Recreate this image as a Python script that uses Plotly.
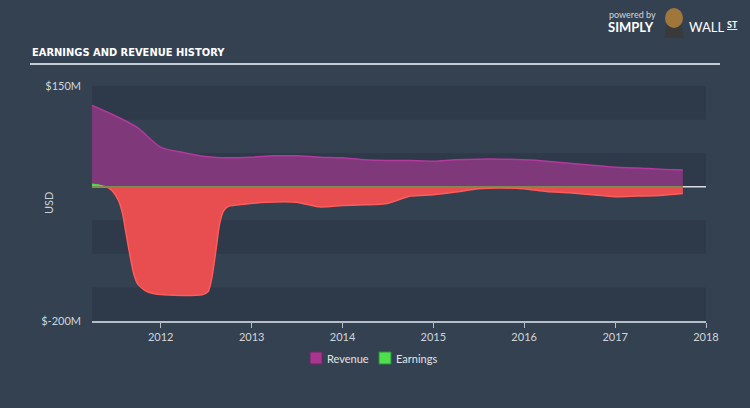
import plotly.graph_objects as go

# ---- data (USD millions) ----
rev_dates = ["2011-03-31","2011-06-30","2011-09-30","2011-12-31","2012-03-31","2012-06-30",
             "2012-09-30","2012-12-31","2013-03-31","2013-06-30","2013-09-30","2013-12-31",
             "2014-03-31","2014-06-30","2014-09-30","2014-12-31","2015-03-31","2015-06-30",
             "2015-09-30","2015-12-31","2016-03-31","2016-06-30","2016-09-30","2016-12-31",
             "2017-03-31","2017-06-30","2017-09-30"]
revenue = [121, 106, 88, 59, 51, 45, 43, 44, 46, 46, 44, 43, 40, 39, 39, 38, 40, 41,
           41, 40, 38, 35, 32, 29, 28, 26, 25]

earn_pos_dates = ["2011-03-31","2011-04-30","2011-05-28"]
earnings_pos = [4, 2.5, 0]

earn_dates = ["2011-05-28","2011-06-20","2011-07-15","2011-08-01","2011-08-15","2011-09-01",
              "2011-09-15","2011-10-01","2011-11-01","2011-12-01","2012-01-15","2012-04-01",
              "2012-06-15","2012-07-10","2012-07-25","2012-08-10","2012-08-25","2012-09-10",
              "2012-10-01","2012-12-01","2013-03-01","2013-06-30","2013-09-30","2013-12-31",
              "2014-03-31","2014-06-30","2014-09-30","2014-12-31","2015-03-31","2015-06-30",
              "2015-09-30","2015-12-31","2016-03-31","2016-06-30","2016-09-30","2016-12-31",
              "2017-03-31","2017-06-30","2017-09-30"]
earnings = [0, -6, -20, -40, -70, -105, -130, -145, -155, -159, -161, -162,
            -161, -156, -135, -95, -55, -36, -29, -26, -23, -23, -30, -28,
            -27, -25, -14, -12, -8, -3, -2, -3, -7, -9, -12, -15,
            -14, -13, -10]

year_ticks = ["2012-01-01","2013-01-01","2014-01-01","2015-01-01","2016-01-01","2017-01-01","2018-01-01"]
year_labels = ["2012","2013","2014","2015","2016","2017","2018"]
y_ticks = [150, -200]
y_labels = ["$150M", "$-200M"]
legend_names = ["Revenue", "Earnings"]

BG = "#344151"
DARK = "#2e3a49"
REV_FILL = "rgba(127,56,121,1)"
REV_LINE = "#b3399f"
EARN_FILL = "#e84e50"
EARN_LINE = "#ff5b5b"
GREEN = "#4ddf4d"

# plot area in pixels
L, R, T, B = 92, 706, 86, 321
PW, PH = R - L, B - T
def px(x):
    return (x - L) / PW
def py(y):
    return (B - y) / PH

fig = go.Figure()

fig.add_trace(go.Scatter(x=rev_dates, y=revenue, mode="lines", fill="tozeroy",
                         fillcolor=REV_FILL, line=dict(color=REV_LINE, width=1.5, shape="spline", smoothing=0.8),
                         showlegend=False, hoverinfo="skip"))
fig.add_trace(go.Scatter(x=earn_dates, y=earnings, mode="lines", fill="tozeroy",
                         fillcolor=EARN_FILL, line=dict(color=EARN_LINE, width=1.5, shape="spline", smoothing=0.6),
                         showlegend=False, hoverinfo="skip"))
fig.add_trace(go.Scatter(x=earn_pos_dates, y=earnings_pos, mode="lines", fill="tozeroy",
                         fillcolor=GREEN, line=dict(color=GREEN, width=1, shape="spline"),
                         showlegend=False, hoverinfo="skip"))
# olive zero line along data span
fig.add_trace(go.Scatter(x=[rev_dates[0], rev_dates[-1]], y=[0, 0], mode="lines",
                         line=dict(color="#7d8a4c", width=1.5), showlegend=False, hoverinfo="skip"))

shapes = []
# alternating bands
for lo, hi in [(100, 150), (0, 50), (-100, -50), (-200, -150)]:
    shapes.append(dict(type="rect", xref="paper", yref="y", x0=0, x1=1, y0=lo, y1=hi,
                       fillcolor=DARK, line=dict(width=0), layer="below"))
# white zero line across plot
shapes.append(dict(type="line", xref="paper", yref="y", x0=0, x1=1, y0=0, y1=0,
                   line=dict(color="#d6dde4", width=1.5), layer="below"))
# title underline
shapes.append(dict(type="line", xref="paper", yref="paper",
                   x0=px(30), x1=px(720), y0=py(64), y1=py(64),
                   line=dict(color="#c3ccd6", width=2)))
# logo: body + head
shapes.append(dict(type="path", xref="paper", yref="paper",
                   path="M {} {} L {} {} L {} {} L {} {} Z".format(px(664), py(38), px(667), py(24),
                                                                     px(681), py(24), px(684), py(38)),
                   fillcolor="#3a3a3a", line=dict(width=0)))
shapes.append(dict(type="circle", xref="paper", yref="paper",
                   x0=px(665), x1=px(683), y0=py(28), y1=py(8),
                   fillcolor="#a0773a", line=dict(width=0)))

# legend (manual)
legend_colors = ["#a8358f", GREEN]
legend_borders = ["#6a2a62", "#2f8a3a"]
legend_sw_x = [310, 379]
for name, c, bc, sx in zip(legend_names, legend_colors, legend_borders, legend_sw_x):
    shapes.append(dict(type="rect", xref="paper", yref="paper",
                       x0=px(sx), x1=px(sx + 12), y0=py(352), y1=py(364),
                       fillcolor=c, line=dict(color=bc, width=1)))

annotations = [
    dict(text="EARNINGS AND REVENUE HISTORY", xref="paper", yref="paper",
         x=px(30), y=py(52), xanchor="left", yanchor="middle",
         showarrow=False, font=dict(family="DejaVu Sans Condensed, Liberation Sans Narrow, sans-serif",
                                    size=11, color="#ffffff", weight="bold")),
    dict(text="powered by", xref="paper", yref="paper",
         x=px(607), y=py(14), xanchor="left", yanchor="middle",
         showarrow=False, font=dict(family="Lato, sans-serif", size=9, color="#d0d6dc")),
    dict(text="<b>SIMPLY</b>", xref="paper", yref="paper",
         x=px(606), y=py(27), xanchor="left", yanchor="middle",
         showarrow=False, font=dict(family="Lato, sans-serif", size=13, color="#ffffff")),
    dict(text="WALL", xref="paper", yref="paper",
         x=px(687), y=py(27), xanchor="left", yanchor="middle",
         showarrow=False, font=dict(family="Lato, sans-serif", size=13, color="#ffffff")),
    dict(text="<u>ST</u>", xref="paper", yref="paper",
         x=px(725), y=py(25), xanchor="left", yanchor="middle",
         showarrow=False, font=dict(family="Lato, sans-serif", size=9, color="#ffffff", weight="bold")),
    dict(text="USD", xref="paper", yref="paper", x=px(48), y=py(203),
         xanchor="center", yanchor="middle", textangle=-90, showarrow=False,
         font=dict(family="Lato, sans-serif", size=11, color="#c8d0d8")),
]
for name, sx in zip(legend_names, legend_sw_x):
    annotations.append(dict(text=name, xref="paper", yref="paper", x=px(sx + 15), y=py(358),
                            xanchor="left", yanchor="middle", showarrow=False,
                            font=dict(family="Lato, sans-serif", size=11, color="#e0e4e8")))

fig.update_layout(
    width=750, height=408,
    margin=dict(l=L, r=750 - R, t=T, b=408 - B),
    paper_bgcolor=BG, plot_bgcolor=BG,
    font=dict(family="Lato, sans-serif", size=11, color="#d0d6dc"),
    shapes=shapes, annotations=annotations,
    showlegend=False,
    xaxis=dict(type="date", range=["2011-03-31", "2018-01-01"], showgrid=False, zeroline=False,
               showline=True, linecolor="#b4bec8", linewidth=1.5,
               ticks="outside", ticklen=5, tickcolor="#b4bec8",
               tickvals=year_ticks, ticktext=year_labels, tickfont=dict(size=11, color="#d0d6dc")),
    yaxis=dict(range=[-200, 150], showgrid=False, zeroline=False, showline=False,
               tickvals=y_ticks, ticktext=y_labels, ticks="", ticklabelstandoff=10,
               tickfont=dict(size=11, color="#d0d6dc")),
)

fig.write_html("out.html", config={"displayModeBar": False},
               post_script="document.body.style.margin='0';document.body.style.background='#344151';")
